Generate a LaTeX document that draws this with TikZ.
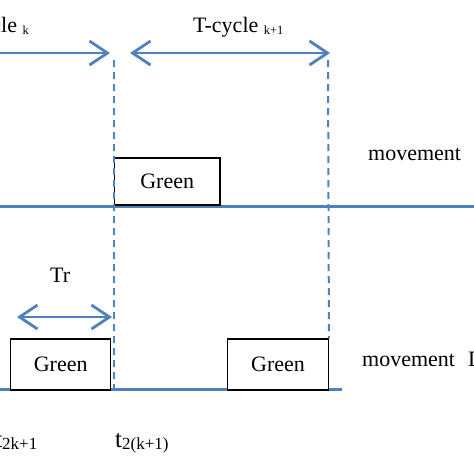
\documentclass[tikz,border=0pt]{standalone}
\usepackage{fontspec}
\setmainfont{Liberation Serif}
\usetikzlibrary{arrows.meta}
\definecolor{lineblue}{RGB}{79,129,189}
\newcommand{\lowsub}[2]{{\fontsize{#1}{#1}\selectfont\raisebox{-2pt}{#2}}}
\begin{document}
\begin{tikzpicture}[x=1pt, y=-1pt,
		>={Straight Barb[length=18pt, width=24pt]},
		lbl/.style={inner sep=0pt, font=\fontsize{22}{26}\selectfont},
		greenbox/.style={draw=black, line width=1.3pt, fill=white, inner sep=0pt, font=\fontsize{22}{26}\selectfont},
		axis/.style={draw=lineblue, line width=2.3pt},
		span/.style={draw=lineblue, line width=2.8pt},
		guide/.style={draw=lineblue, line width=2pt, dash pattern=on 7pt off 5pt}]
		\useasboundingbox (0,0) rectangle (474,474);
		\clip (0,0) rectangle (474,474);
		
		% labels
		\node[lbl, anchor=base east] (cycleK) at (29,32) {T-cycle~\lowsub{12.5}{k}};
		\node[lbl, anchor=base west] (cycleNext) at (193,32) {T-cycle~\lowsub{12.5}{k+1}};
		\node[lbl, anchor=base west] (moveA) at (368,160) {movement};
		\node[lbl, anchor=base west] (moveB) at (362,366) {movement\hspace{13pt}D};
		\node[lbl, anchor=base west] (tr) at (50,282) {Tr};
		\node[lbl, anchor=base east] (tOdd) at (37.5,447) {{\fontsize{25}{26}\selectfont t}\lowsub{17}{2k+1}};
		\node[lbl, anchor=base west] (tEven) at (115,447) {{\fontsize{25}{26}\selectfont t}\lowsub{17}{2(k+1)}};
		
		% time lines
		\coordinate (upL) at (0,206.5);
		\coordinate (upR) at (474,206.5);
		\coordinate (loL) at (0,389.5);
		\coordinate (loR) at (342,389.5);
		\draw[axis] (upL) -- (upR);
		\draw[axis] (loL) -- (loR);
		
		% green phases
		\node[greenbox, minimum width=105.7pt, minimum height=47pt] (greenA) at (167.2,181.5) {Green};
		\node[greenbox, minimum width=100pt, minimum height=51pt] (greenB) at (60.7,364.5) {Green};
		\node[greenbox, minimum width=100.6pt, minimum height=51pt] (greenC) at (278,364.5) {Green};
		
		% cycle borders
		\coordinate (cutA) at (114,60);
		\coordinate (cutB) at (114,390);
		\coordinate (cutC) at (328,60);
		\draw[guide] (cutA) -- (cutB);
		\draw[guide] (cutC) -- (greenC.north east);
		
		% spans
		\coordinate (spanA) at (-10,53);
		\coordinate (spanB) at (110,53);
		\coordinate (spanC) at (130,53);
		\coordinate (spanD) at (330,53);
		\coordinate (trL) at (17,317);
		\coordinate (trR) at (112,317);
		\draw[span, ->] (spanA) -- (spanB);
		\draw[span, <->] (spanC) -- (spanD);
		\draw[span, <->] (trL) -- (trR);
	\end{tikzpicture}
\end{document}
